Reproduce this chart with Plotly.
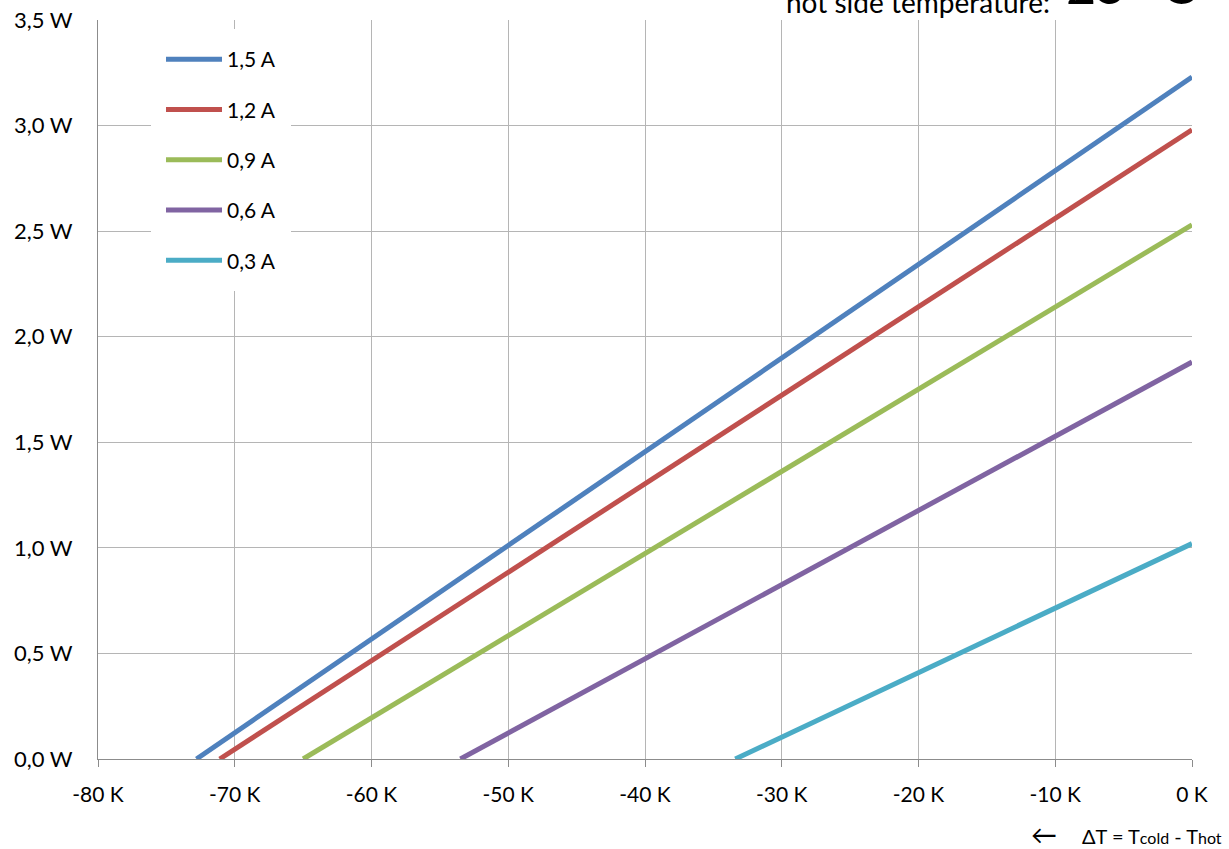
import plotly.graph_objects as go

# data
currents = ["1,5 A", "1,2 A", "0,9 A", "0,6 A", "0,3 A"]
dt_max = [-72.8, -71.1, -65.0, -53.5, -33.4]   # K, where Qc = 0
q_max = [3.23, 2.98, 2.53, 1.88, 1.02]          # W, at dT = 0
colors = ["#4F81BD", "#C0504D", "#9BBB59", "#8064A2", "#4BACC6"]
x_ticks = [-80, -70, -60, -50, -40, -30, -20, -10, 0]
x_labels = ["-80 K", "-70 K", "-60 K", "-50 K", "-40 K", "-30 K", "-20 K", "-10 K", "0 K"]
y_ticks = [0, 0.5, 1.0, 1.5, 2.0, 2.5, 3.0, 3.5]
y_labels = ["0,0 W", "0,5 W", "1,0 W", "1,5 W", "2,0 W", "2,5 W", "3,0 W", "3,5 W"]

FONT = "Lato"
W, H = 1229, 849
L, R, T, B = 98, 37, 20, 90
pw, ph = W - L - R, H - T - B

def px(x):
    return (x - L) / pw

def py(y):
    return (H - B - y) / ph

fig = go.Figure()
for i, (name, d, q, c) in enumerate(zip(currents, dt_max, q_max, colors)):
    fig.add_trace(go.Scatter(
        x=[d, 0], y=[0, q], mode="lines", name=name,
        line=dict(color=c, width=5), legendgroup=f"g{i}",
    ))

fig.update_layout(
    width=W, height=H,
    margin=dict(l=L, r=R, t=T, b=B, pad=0, autoexpand=False),
    paper_bgcolor="white", plot_bgcolor="white",
    font=dict(family=FONT, size=21, color="black"),
    showlegend=True,
    legend=dict(
        x=px(151), y=py(29), xanchor="left", yanchor="top",
        bgcolor="white", bordercolor="white", borderwidth=10,
        font=dict(family=FONT, size=21, color="black"),
        traceorder="grouped", tracegroupgap=20,
        itemwidth=56,
    ),
    xaxis=dict(
        range=[-80, 0], tickmode="array", tickvals=x_ticks, ticktext=x_labels,
        showgrid=True, gridcolor="#b5b5b5", gridwidth=1,
        showline=True, linecolor="#8c8c8c", linewidth=1,
        ticks="outside", ticklen=7, tickcolor="#8c8c8c",
        ticklabelstandoff=10, zeroline=False, automargin=False,
        tickfont=dict(family=FONT, size=21),
    ),
    yaxis=dict(
        range=[0, 3.5], tickmode="array", tickvals=y_ticks, ticktext=y_labels,
        showgrid=True, gridcolor="#b5b5b5", gridwidth=1,
        showline=True, linecolor="#8c8c8c", linewidth=1,
        ticks="", ticklabelstandoff=20, zeroline=False, automargin=False,
        tickfont=dict(family=FONT, size=22),
    ),
    annotations=[
        dict(text="hot side temperature:", xref="paper", yref="paper",
             x=px(1052), y=1, xanchor="right", yanchor="middle", yshift=18,
             showarrow=False, font=dict(family=FONT, size=28, color="black")),
        dict(text="25 °C", xref="paper", yref="paper",
             x=px(1064), y=1, xanchor="left", yanchor="bottom", yshift=3,
             showarrow=False, font=dict(family=FONT, size=52, color="black")),
        dict(text="<span style='font-size:26px'>←</span>     ΔT = T<span style='font-size:16px'>cold</span> - T<span style='font-size:16px'>hot</span>",
             xref="paper", yref="paper",
             x=px(1224), y=py(834), xanchor="right", yanchor="middle",
             showarrow=False, font=dict(family=FONT, size=20, color="black")),
    ],
)

fig.write_html("out.html", config={"displayModeBar": False},
               post_script="document.body.style.margin='0';")
